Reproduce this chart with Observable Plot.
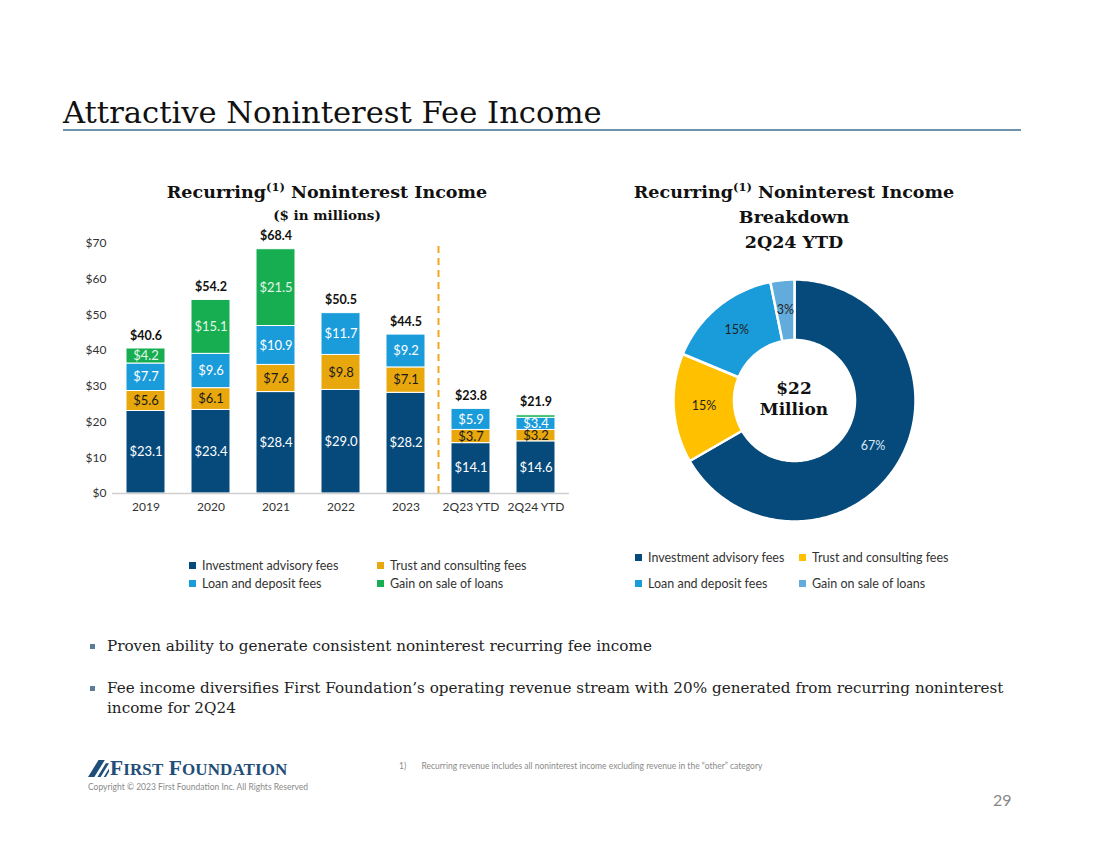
<!DOCTYPE html>
<html>
<head>
<meta charset="utf-8">
<script src="https://cdn.jsdelivr.net/npm/d3@7"></script>
<script src="https://cdn.jsdelivr.net/npm/@observablehq/plot@0.6"></script>
<style>
  html, body { margin: 0; padding: 0; background: #fff; }
  #page { position: relative; width: 1100px; height: 849px; overflow: hidden; font-family: Lato, "Noto Sans", sans-serif; color: #222; }
  .abs { position: absolute; }
  .serif { font-family: "DejaVu Serif", "Liberation Serif", serif; }
  .ctitle { font-family: "DejaVu Serif", serif; font-weight: bold; font-size: 17.5px; color: #111; text-align: center; line-height: 25px; white-space: nowrap; }
  .legend { display: grid; font-size: 12.5px; color: #333; white-space: nowrap; }
  .legend span.sw { display: inline-block; width: 7px; height: 7px; margin-right: 6px; vertical-align: 1px; }
  .bul { font-family: "DejaVu Serif", serif; font-size: 15.2px; color: #222; line-height: 20px; }
  .bul .mk { position: absolute; left: -17px; top: 8px; width: 5px; height: 5px; background: #5c7d98; }
</style>
</head>
<body>
<div id="page">
  <div class="abs serif" style="left:63px;top:95px;font-size:30.6px;color:#111;white-space:nowrap;">Attractive Noninterest Fee Income</div>
  <div class="abs" style="left:63px;top:129px;width:958px;height:2px;background:#6f93ad;"></div>

  <div class="abs ctitle" style="left:127px;top:180px;width:400px;">Recurring<sup style="font-size:11.5px;vertical-align:7px;line-height:0;">(1)</sup> Noninterest Income</div>
  <div class="abs ctitle" style="left:127px;top:203px;width:400px;font-size:13.5px;">($ in millions)</div>

  <div class="abs ctitle" style="left:594px;top:180px;width:400px;">Recurring<sup style="font-size:11.5px;vertical-align:7px;line-height:0;">(1)</sup> Noninterest Income<br>Breakdown<br>2Q24 YTD</div>

  <div id="bars" class="abs" style="left:60px;top:215px;"></div>
  <div id="donut" class="abs" style="left:664px;top:270px;"></div>
  <div id="donutCenter" class="abs ctitle" style="left:744px;top:378px;width:100px;font-size:17px;line-height:21px;">$22<br>Million</div>

  <div id="legL" class="abs legend" style="left:189px;top:558px;grid-template-columns:188px auto;row-gap:3px;"></div>
  <div id="legR" class="abs legend" style="left:635px;top:550px;grid-template-columns:164px auto;row-gap:11px;"></div>

  <div class="abs bul" style="left:107px;top:636px;white-space:nowrap;"><span class="mk"></span>Proven ability to generate consistent noninterest recurring fee income</div>
  <div class="abs bul" style="left:107px;top:678px;width:920px;"><span class="mk"></span>Fee income diversifies First Foundation’s operating revenue stream with 20% generated from recurring noninterest income for 2Q24</div>

  <div class="abs" style="left:88px;top:756px;display:flex;align-items:center;">
    <svg width="21" height="17" viewBox="0 0 20 16"><g fill="#1f4e79"><polygon points="6,16 0,16 10,0 16,0"/><polygon points="12,16 9,16 17,3 20,3"/><polygon points="17,16 15,16 20,8 20,11"/></g></svg>
    <span style="font-family:'Liberation Serif',serif;font-weight:bold;color:#1f4e79;font-size:21.5px;letter-spacing:0.1px;margin-left:1px;">F<span style="font-size:17px;">IRST</span> F<span style="font-size:17px;">OUNDATION</span></span>
  </div>
  <div class="abs" style="left:88px;top:782px;font-size:8.5px;color:#8a8a8a;">Copyright © 2023 First Foundation Inc. All Rights Reserved</div>
  <div class="abs" style="left:399px;top:761px;font-size:8.5px;color:#8a8a8a;white-space:nowrap;">1)&nbsp;&nbsp;&nbsp;&nbsp;&nbsp;&nbsp;&nbsp;Recurring revenue includes all noninterest income excluding revenue in the “other” category</div>
  <div class="abs" style="left:993px;top:790px;font-size:16px;color:#888;">29</div>
</div>
<script>
// ---- Data ----
const periods = ["2019", "2020", "2021", "2022", "2023", "2Q23 YTD", "2Q24 YTD"];
const categories = ["Investment advisory fees", "Trust and consulting fees", "Loan and deposit fees", "Gain on sale of loans"];
const investmentAdvisory = [23.1, 23.4, 28.4, 29.0, 28.2, 14.1, 14.6];
const trustConsulting   = [5.6, 6.1, 7.6, 9.8, 7.1, 3.7, 3.2];
const loanDeposit       = [7.7, 9.6, 10.9, 11.7, 9.2, 5.9, 3.4];
const gainOnSale        = [4.2, 15.1, 21.5, 0, 0, 0, 0.7];
const totals            = [40.6, 54.2, 68.4, 50.5, 44.5, 23.8, 21.9];
const yTicks = [0, 10, 20, 30, 40, 50, 60, 70];
const separatorBefore = "2Q23 YTD";

const donutCategories = categories;
const donutValues = [14.6, 3.2, 3.4, 0.7];
const donutLabels = ["67%", "15%", "15%", "3%"];

const barColors = ["#064a7b", "#e8a70c", "#1a9bda", "#16ae50"];
const barTextColors = ["#ffffff", "#1a1a1a", "#ffffff", "#e6f5ea"];
const donutColors = ["#064a7b", "#ffc000", "#1a9bda", "#62acdd"];
const donutTextColors = ["#d8e8f5", "#222222", "#222222", "#222222"];

// ---- Stacked bar table ----
const series = [investmentAdvisory, trustConsulting, loanDeposit, gainOnSale];
const rows = [];
periods.forEach((p, i) => {
  let base = 0;
  series.forEach((s, k) => {
    const v = s[i];
    rows.push({period: p, category: categories[k], value: v, y1: base, y2: base + v, mid: base + v / 2, k});
    base += v;
  });
});
const totalRows = periods.map((p, i) => ({period: p, total: totals[i]}));
const labelRows = rows.filter(d => d.value >= 1);

function barChart(sepDx) {
  return Plot.plot({
    width: 520,
    height: 308,
    marginLeft: 52,
    marginRight: 11,
    marginTop: 28,
    marginBottom: 30,
    style: {fontFamily: "Lato, 'Noto Sans', sans-serif", background: "transparent", fontSize: "12px", color: "#333"},
    x: {domain: periods, paddingInner: 0.395, paddingOuter: 0.2, label: null, tickSize: 0, tickPadding: 9},
    y: {domain: [0, 70], ticks: yTicks, tickFormat: d => "$" + d, label: null, tickSize: 0, tickPadding: 6},
    color: {domain: categories, range: barColors},
    marks: [
      Plot.barY(rows, {x: "period", y1: "y1", y2: "y2", fill: "category", stroke: "#fff", strokeWidth: 1}),
      Plot.ruleY([0], {stroke: "#d0d0d0", strokeWidth: 1.5}),
      Plot.ruleX([separatorBefore], {x: d => d, y1: 0, y2: 70.3, dx: sepDx, stroke: "#f0a81c", strokeWidth: 2, strokeDasharray: "7,5"}),
      Plot.text(labelRows, {x: "period", y: "mid", text: d => "$" + d.value.toFixed(1), fill: d => barTextColors[d.k], fontSize: 13}),
      Plot.text(totalRows, {x: "period", y: "total", text: d => "$" + d.total.toFixed(1), dy: -13, fontWeight: "bold", fontSize: 12.5, fill: "#111"})
    ]
  });
}
const probe = barChart(0);
const step = probe.scale("x").step;
document.getElementById("bars").append(barChart(-step / 2));

// ---- Donut (ring polygons rendered by Plot.geo in a planar identity projection) ----
const inner = 0.5, outer = 1;
const pie = d3.pie().sort(null).value(d => d)(donutValues);
function ringPolygon(a0, a1) {
  const n = Math.max(8, Math.ceil((a1 - a0) / 0.02));
  const pts = [];
  for (let i = 0; i <= n; i++) { const a = a0 + (a1 - a0) * i / n; pts.push([outer * Math.sin(a), -outer * Math.cos(a)]); }
  for (let i = n; i >= 0; i--) { const a = a0 + (a1 - a0) * i / n; pts.push([inner * Math.sin(a), -inner * Math.cos(a)]); }
  pts.push(pts[0]);
  return pts;
}
const slices = pie.map((p, i) => {
  const mid = (p.startAngle + p.endAngle) / 2, rm = (inner + outer) / 2;
  return {
    type: "Feature",
    properties: {category: donutCategories[i], label: donutLabels[i], k: i, cx: rm * Math.sin(mid), cy: -rm * Math.cos(mid)},
    geometry: {type: "Polygon", coordinates: [ringPolygon(p.startAngle, p.endAngle)]}
  };
});
const circlePts = d3.range(0, 361, 2).map(d => [outer * Math.sin(d * Math.PI / 180), -outer * Math.cos(d * Math.PI / 180)]);
const domainCircle = {type: "Polygon", coordinates: [circlePts]};

const donut = Plot.plot({
  width: 260,
  height: 260,
  margin: 9,
  style: {fontFamily: "Lato, 'Noto Sans', sans-serif", background: "transparent"},
  projection: {type: "identity", domain: domainCircle},
  color: {domain: donutCategories, range: donutColors},
  marks: [
    Plot.geo(slices, {fill: d => d.properties.category, stroke: "#fff", strokeWidth: 2.5}),
    Plot.text(slices, {x: d => d.properties.cx, y: d => d.properties.cy, text: d => d.properties.label, fill: d => donutTextColors[d.properties.k], fontSize: 12.5})
  ]
});
document.getElementById("donut").append(donut);

// ---- Legends ----
function legend(id, colors) {
  const el = document.getElementById(id);
  categories.forEach((c, i) => {
    const item = document.createElement("div");
    item.innerHTML = `<span class="sw" style="background:${colors[i]}"></span>${c}`;
    el.append(item);
  });
}
legend("legL", barColors);
legend("legR", donutColors);
</script>
</body>
</html>
